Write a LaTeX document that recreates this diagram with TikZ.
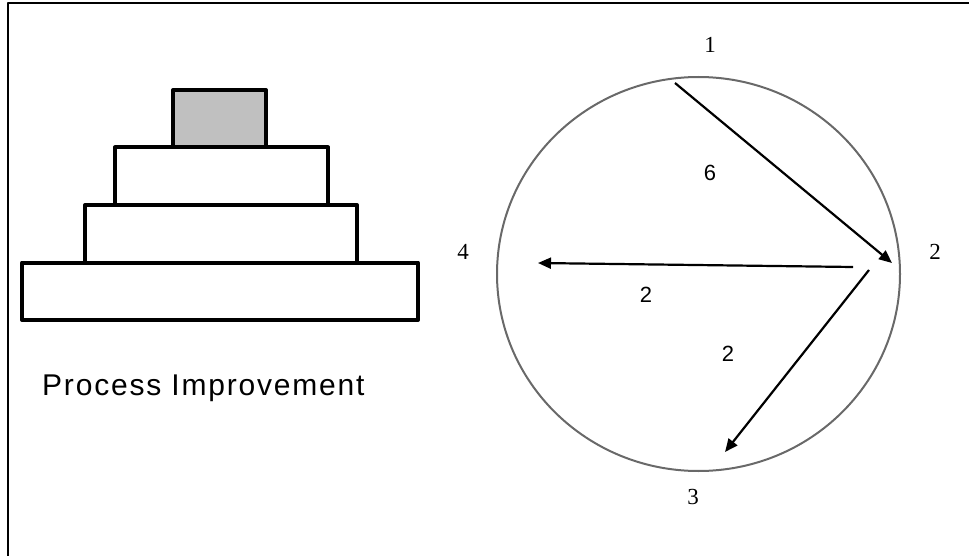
\documentclass[tikz,border=0pt]{standalone}
\usepackage{fontspec}
\setmainfont{Liberation Serif}
\newfontfamily\arialfont{Liberation Sans}
\newfontfamily\arialwide[LetterSpace=6]{Liberation Sans}
\usetikzlibrary{arrows.meta,shapes.geometric}

\definecolor{silver}{RGB}{192,192,192}
\definecolor{rimgray}{RGB}{105,105,105}

\begin{document}
\begin{tikzpicture}[x=1pt, y=-1pt, line join=round]
  \useasboundingbox (0,0) rectangle (969,556);
  \tikzset{
    tier/.style={draw, line width=4pt},
    flow/.style={-{Triangle[length=13pt,width=11pt]}, line width=2.2pt},
    stage/.style={font=\fontsize{23}{25}\selectfont},
    weight/.style={font=\arialfont\fontsize{22}{24}\selectfont}
  }

  % 外框：左边与上边
  \draw[line width=2.6pt] (8,556) -- (8,3) -- (969,3);

  % 金字塔：四层，最上层灰色
  \draw[tier] (22,262.5) rectangle (418,320);
  \draw[tier] (85,205) rectangle (357,262.5);
  \draw[tier] (115,147.5) rectangle (328,205);
  \draw[tier, fill=silver] (173,90) rectangle (266,147.5);

  \node[font=\arialwide\fontsize{30}{32}\selectfont, anchor=base west, inner sep=0] (title) at (42,395) {Process Improvement};

  % 圆与四个阶段
  \node[ellipse, draw=rimgray, line width=2pt, minimum width=403pt, minimum height=394pt, inner sep=0] (wheel) at (698.5,274) {};
  \node[stage] (s1) at (710,45)  {1};
  \node[stage] (s2) at (935,252) {2};
  \node[stage] (s3) at (693,497) {3};
  \node[stage] (s4) at (463,252) {4};

  % 箭头端点
  \coordinate (a1) at (675,83);
  \coordinate (a2) at (892,263);
  \coordinate (b2) at (853,267);
  \coordinate (b4) at (538,263);
  \coordinate (c2) at (869,270);
  \coordinate (c3) at (725,452);

  \draw[flow] (a1) -- (a2);
  \draw[flow] (b2) -- (b4);
  \draw[flow] (c2) -- (c3);

  \node[weight] (w12) at (710,173) {6};
  \node[weight] (w24) at (646,295) {2};
  \node[weight] (w23) at (728,354) {2};
\end{tikzpicture}
\end{document}
